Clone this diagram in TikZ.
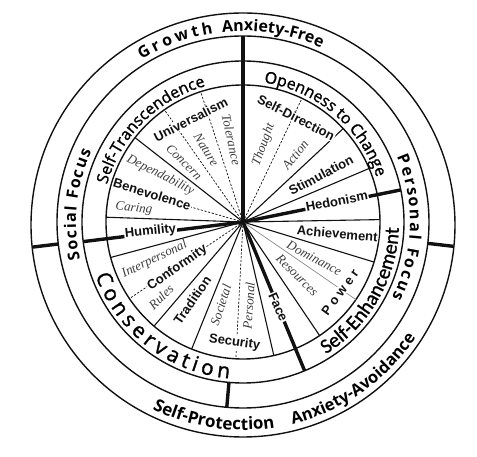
\documentclass[tikz,border=0pt]{standalone}
\usepackage{fontspec}
\setmainfont{Liberation Sans}
\newfontfamily\bandfont{Open Sans}
\newfontfamily\bandmid{Open Sans}[FakeBold=1.3]
\newfontfamily\narrowfont{Carlito}[FakeBold=1]
\newfontfamily\italfont{Liberation Serif}
\usepackage{tikz}
\usetikzlibrary{decorations.text}
\definecolor{ink}{HTML}{111111}
\definecolor{greytext}{HTML}{3C3C3C}
\definecolor{faint}{HTML}{8A8A8A}
\tikzset{
  ring/.style={draw=ink, line width=1.4pt},
  spoke/.style={draw=ink, line width=1.1pt},
  divider/.style={draw=ink, line width=3.4pt},
  subspoke/.style={draw=ink, line width=0.7pt, dash pattern=on 2.2pt off 1.6pt},
  faintspoke/.style={draw=faint, line width=0.7pt},
  value/.style={font=\fontsize{13}{13}\selectfont\bfseries, text=ink, fill=white, inner sep=0.8pt},
  facet/.style={font=\italfont\itshape\fontsize{13}{13}\selectfont, text=greytext, inner sep=0.5pt},
  bandtext/.style={decorate, decoration={text along path, text align=center, text={#1}}},
  bandfit/.style={decorate, decoration={text along path, text align=fit to path, text={#1}}},
}

\begin{document}
\begin{tikzpicture}[x=1pt, y=1pt]
  \useasboundingbox (-243,-235) rectangle (234,222);
  \coordinate (hub) at (0,0);
  \coordinate (rim) at (0,-3);

  \draw[ring] (rim) circle[radius=212];
  \draw[ring] (hub) circle[radius=186];
  \draw[ring] (hub) circle[radius=161];
  \draw[ring] (hub) circle[radius=137];

  \foreach \a in {142,178,-165,-130.5,-112,-77,-56,-17,1,23,43}
    \draw[spoke] (hub) -- (\a:137);
  \foreach \a in {64.5,108,125,164,-146,-93}
    \draw[subspoke] (hub) -- (\a:137);
  \draw[faintspoke] (hub) -- (-34.5:137);

  \draw[divider] (hub) -- (90:186);
  \draw[divider] (hub) -- (187:161);
  \draw[divider] (hub) -- (11.5:161);
  \draw[divider] (hub) -- (-67.5:161);
  \draw[divider] (265:161) -- (265:186);
  \draw[divider] (186.8:186) -- (186.8:212);
  \draw[divider] (-6.6:186) -- (-6.6:212);

  \node[value, rotate=27] (universalism) at (117:115) {Universalism};
  \node[value, rotate=-27] (selfdirection) at (63:117) {Self-Direction};
  \node[value, rotate=28] (stimulation) at (31:91) {Stimulation};
  \node[value, rotate=11] (hedonism) at (12.5:96) {Hedonism};
  \node[value, rotate=-5] (achievement) at (-7:95) {Achievement};
  \node[value, rotate=54] (power) at (-36:120) {P\;o\;w\;e\;r};
  \node[value, rotate=-66] (face) at (-67.5:92) {Face};
  \node[value, rotate=-8] (security) at (-94:121) {Security};
  \node[value, rotate=55] (tradition) at (-123:93) {Tradition};
  \node[value, rotate=35] (conformity) at (-145:80) {Conformity};
  \node[value, rotate=6] (humility) at (186:93) {Humility};
  \node[value, rotate=-17] (benevolence) at (163:95) {Benevolence};

  \node[facet, rotate=70] (thought) at (75:80) {Thought};
  \node[facet, rotate=52] (action) at (52:85) {Action};
  \node[facet, rotate=-78] (tolerance) at (98:83) {Tolerance};
  \node[facet, rotate=-58] (nature) at (117:81) {Nature};
  \node[facet, rotate=-45] (concern) at (134.5:84) {Concern};
  \node[facet, rotate=-27] (dependability) at (150.5:95) {Dependability};
  \node[facet, rotate=-7] (caring) at (173:110) {Caring};
  \node[facet, rotate=26] (interpersonal) at (-157:96) {Interpersonal};
  \node[facet, rotate=44] (rules) at (-137.5:111) {Rules};
  \node[facet, rotate=72] (societal) at (-105:86) {Societal};
  \node[facet, rotate=86] (personal) at (-86:84) {Personal};
  \node[facet, rotate=-44] (resources) at (-44.5:76) {Resources};
  \node[facet, rotate=-28] (dominance) at (-27:80) {Dominance};

  \path[bandfit={|\bandfont\bfseries\fontsize{16}{16}\selectfont|Growth}] (122:191) arc[start angle=122, end angle=99, radius=191];
  \path[bandtext={|\bandfont\bfseries\fontsize{16}{16}\selectfont|Anxiety-Free}] (101:191) arc[start angle=101, end angle=61, radius=191];
  \path[bandtext={|\bandfont\bfseries\fontsize{17}{17}\selectfont|Self-Protection}] (236:208) arc[start angle=236, end angle=287, radius=208];
  \path[bandtext={|\bandfont\bfseries\fontsize{16.5}{16.5}\selectfont|Anxiety-Avoidance}] (275:208) arc[start angle=275, end angle=335, radius=208];
  \path[bandfit={|\bandfont\bfseries\fontsize{16}{16}\selectfont|Social Focus}] (193:167) arc[start angle=193, end angle=155, radius=167];
  \path[bandfit={|\bandfont\bfseries\fontsize{16}{16}\selectfont|Personal Focus}] (23:167) arc[start angle=23, end angle=-27, radius=167];
  \path[bandtext={|\bandmid\fontsize{16}{16}\selectfont|Self-Transcendence}] (175:141) arc[start angle=175, end angle=95, radius=141];
  \path[bandtext={|\bandmid\fontsize{16}{16}\selectfont|Openness to Change}] (90:141) arc[start angle=90, end angle=10, radius=141];
  \path[bandtext={|\narrowfont\fontsize{20.5}{20.5}\selectfont|Self-Enhancement}] (-70:156) arc[start angle=-70, end angle=10, radius=156];
  \path[bandfit={|\bandmid\fontsize{21}{21}\selectfont|Conservation}] (200:157) arc[start angle=200, end angle=265, radius=157];
\end{tikzpicture}
\end{document}
